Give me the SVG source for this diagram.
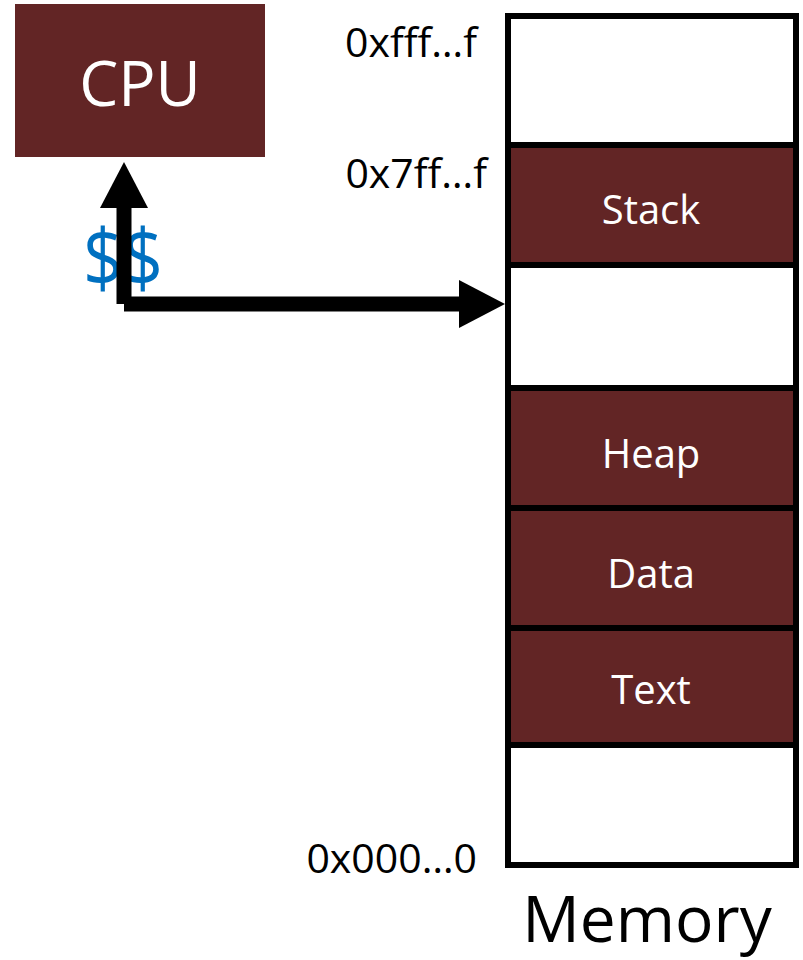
<svg xmlns="http://www.w3.org/2000/svg" width="803" height="960" viewBox="0 0 803 960">
<style>
.seg{stroke:#000;stroke-width:6}
.fill{fill:#622525}
.empty{fill:#fff}
.wt{fill:#fff;font-family:"Open Sans","Noto Sans",sans-serif;text-anchor:middle}
.addr{fill:#000;font-family:"Open Sans","Noto Sans",sans-serif;font-size:41px;text-anchor:end}
.conn{stroke:#000;stroke-width:15;fill:none}
</style>
<defs>
<marker id="ah" markerUnits="userSpaceOnUse" markerWidth="48" markerHeight="48" refX="0" refY="24" orient="auto" viewBox="0 0 48 48">
<polygon points="0,0 46,24 0,48" fill="#000"/>
</marker>
</defs>
<g id="cpu">
<rect x="15" y="4" width="250" height="153" class="fill"/>
<text x="140" y="106" class="wt" font-size="62">CPU</text>
</g>
<g id="cache">
<text x="123" y="287" fill="#0070C0" font-family="Open Sans, Noto Sans, sans-serif" font-size="80" text-anchor="middle" textLength="80" lengthAdjust="spacingAndGlyphs">$$</text>
</g>
<g id="connectors">
<path class="conn" d="M124 304 V208" marker-end="url(#ah)"/>
<path class="conn" d="M124 304 H459" marker-end="url(#ah)"/>
</g>
<g id="memory">
<rect x="508" y="16" width="288" height="129" class="seg empty"/>
<rect x="508" y="145" width="288" height="120" class="seg fill"/>
<rect x="508" y="265" width="288" height="123" class="seg empty"/>
<rect x="508" y="388" width="288" height="120" class="seg fill"/>
<rect x="508" y="508" width="288" height="120" class="seg fill"/>
<rect x="508" y="628" width="288" height="117" class="seg fill"/>
<rect x="508" y="745" width="288" height="120" class="seg empty"/>
<text x="651" y="224" class="wt" font-size="40">Stack</text>
<text x="651" y="468" class="wt" font-size="40">Heap</text>
<text x="651" y="588" class="wt" font-size="40">Data</text>
<text x="651" y="704" class="wt" font-size="40">Text</text>
<text x="647" y="942" fill="#000" font-family="Open Sans, Noto Sans, sans-serif" font-size="64" text-anchor="middle">Memory</text>
</g>
<g id="addresses">
<text x="477" y="57" class="addr">0xfff…f</text>
<text x="487" y="188" class="addr">0x7ff…f</text>
<text x="477" y="873" class="addr">0x000…0</text>
</g>
</svg>
